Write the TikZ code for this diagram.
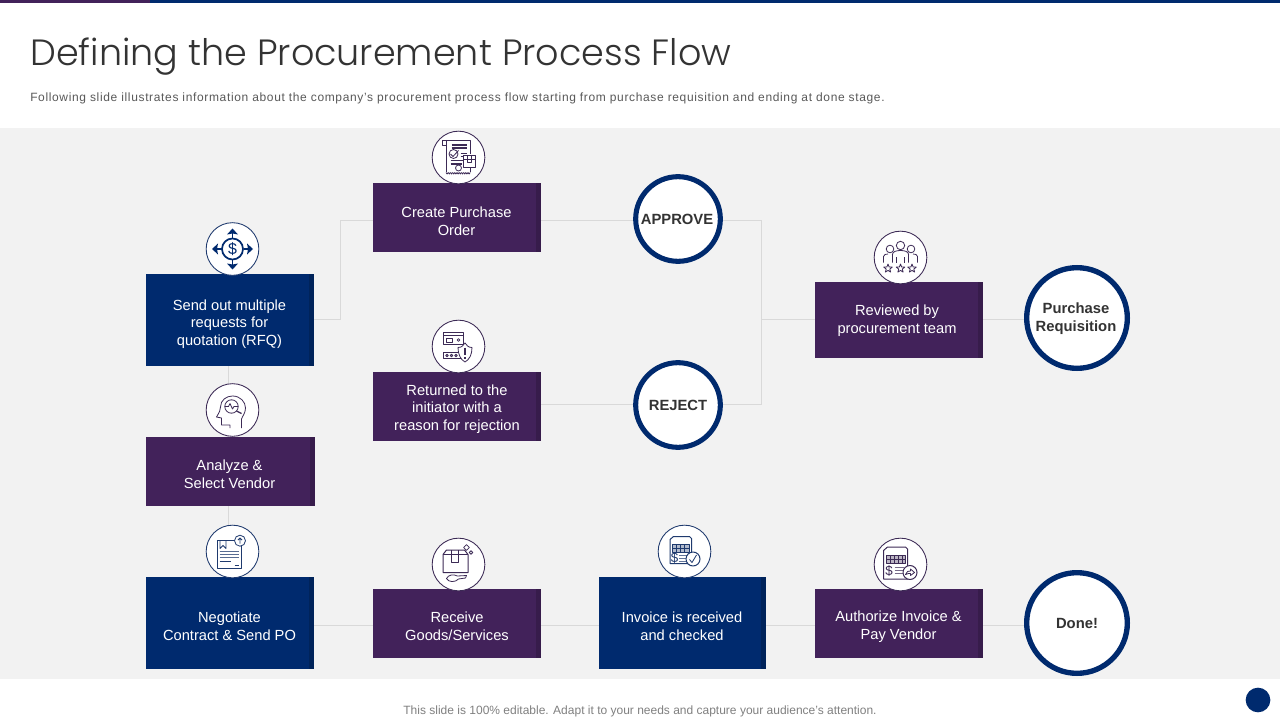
\documentclass[tikz,border=0pt]{standalone}
\usepackage{fontspec}
\setmainfont{Liberation Sans}
\newfontfamily\titlefont{Poppins Light}
\newfontfamily\spacedfont[LetterSpace=5.4]{Liberation Sans}
\usetikzlibrary{backgrounds}
\definecolor{navy}{HTML}{002A6E}
\definecolor{navyd}{HTML}{00235A}
\definecolor{plum}{HTML}{42225A}
\definecolor{plumd}{HTML}{371C4B}
\definecolor{band}{HTML}{F2F2F2}
\definecolor{wire}{HTML}{D9D9D9}
\definecolor{ink}{HTML}{333333}
\definecolor{iconn}{HTML}{1F3A6E}
\definecolor{iconp}{HTML}{3C2A55}
\tikzset{
  x=.75pt,y=-.75pt,
  boxbase/.style={rectangle,inner sep=0,outer sep=0},
  txt/.style={text=white,align=center,inner sep=0,font=\fontsize{11}{13.3}\selectfont},
  ringa/.style={circle,draw=navy,fill=white,line width=3.8pt,inner sep=0,minimum size=63.5pt},
  ringb/.style={circle,draw=navy,fill=white,line width=4pt,inner sep=0,minimum size=75.5pt},
  rtxt/.style={text=ink,align=center,inner sep=0,font=\fontsize{11.1}{13.3}\selectfont\bfseries},
  iconc/.style={circle,draw=#1,fill=white,line width=.65pt,inner sep=0,minimum size=39.5pt},
  wirel/.style={draw=wire,line width=.75pt},
  ic/.style={line width=.6pt,draw=iconp,line join=round},
  icb/.style={line width=.6pt,draw=iconn,line join=round},
}
\newcommand{\flowbox}[7]{% name, x1,y1,x2,y2, fill, strip
  \path[fill=#6] (#2,#3) rectangle (#4,#5);
  \path[fill=#7] (#4-5,#3) rectangle (#4,#5);
  \node[boxbase,minimum width={(#4-#2)*.75pt},minimum height={(#5-#3)*.75pt}] (#1) at ({(#2+#4)/2},{(#3+#5)/2}) {};
}
\begin{document}
\begin{tikzpicture}
\useasboundingbox (0,0) rectangle (1280,720);
\fill[white] (0,0) rectangle (1280,720);
\fill[band] (0,128) rectangle (1280,679);
\fill[navy] (150,0) rectangle (1280,3);
\fill[plum] (0,0) rectangle (150,3);

\node[anchor=base west,inner sep=0,text=ink,font=\titlefont\fontsize{27.4}{32}\selectfont] (title) at (30,66) {Defining the Procurement Process Flow};
\node[anchor=base west,inner sep=0,text=black!65,font=\spacedfont\fontsize{9}{11}\selectfont] (sub) at (30,102) {Following slide illustrates information about the company’s procurement process flow starting from purchase requisition and ending at done stage.};
\node[inner sep=0,text=black!50,font=\fontsize{9}{11}\selectfont] (foot) at (640,711) {This slide is 100\% editable. Adapt it to your needs and capture your audience's attention.};
\node[circle,fill=navy,inner sep=0,minimum size=18.5pt] (dot) at (1258,700) {};

\flowbox{rfq}{146}{274}{314}{366}{navy}{navyd}
\flowbox{po}{373}{183}{541}{252}{plum}{plumd}
\flowbox{ret}{373}{372}{541}{441}{plum}{plumd}
\flowbox{ana}{146}{437}{315}{506}{plum}{plumd}
\flowbox{neg}{146}{577}{314}{669}{navy}{navyd}
\flowbox{rec}{373}{589}{541}{658}{plum}{plumd}
\flowbox{inv}{599}{577}{766}{669}{navy}{navyd}
\flowbox{aut}{815}{589}{983}{658}{plum}{plumd}
\flowbox{rev}{815}{282}{983}{358}{plum}{plumd}

\node[ringa] (app) at (678,219) {};
\node[ringa] (rej) at (678,405) {};
\node[ringb] (pur) at (1077,318) {};
\node[ringb] (don) at (1077,623) {};

% level coordinates for the connectors
\coordinate (yrow1) at (0,220.5);
\coordinate (yrow2) at (0,319);
\coordinate (yrow3) at (0,404.5);
\coordinate (yrow4) at (0,625);
\coordinate (xtrunk) at (761,0);
\coordinate (xfork) at (340,0);
\coordinate (xcol) at (228.5,0);

\draw[wirel] (rfq.east |- yrow2) -- (xfork |- yrow2) -- (xfork |- yrow1) -- (po.west |- yrow1);
\draw[wirel] (po.east |- yrow1) -- (app.west |- yrow1);
\draw[wirel] (app.east |- yrow1) -- (xtrunk |- yrow1) -- (xtrunk |- yrow3) -- (rej.east |- yrow3);
\draw[wirel] (rev.west |- yrow2) -- (xtrunk |- yrow2);
\draw[wirel] (rev.east |- yrow2) -- (pur.west |- yrow2);
\draw[wirel] (rej.west |- yrow3) -- (ret.east |- yrow3);
\draw[wirel] (xcol |- rfq.south) -- (xcol |- ana.north);
\draw[wirel] (xcol |- ana.south) -- (xcol |- neg.north);
\draw[wirel] (neg.east |- yrow4) -- (rec.west |- yrow4);
\draw[wirel] (rec.east |- yrow4) -- (inv.west |- yrow4);
\draw[wirel] (inv.east |- yrow4) -- (aut.west |- yrow4);
\draw[wirel] (aut.east |- yrow4) -- (don.west |- yrow4);

\node[txt] (t1) at (229.5,324) {Send out multiple\\requests for\\quotation (RFQ)};
\node[txt] (t2) at (456.5,221) {Create Purchase\\Order};
\node[txt] (t3) at (457,409) {Returned to the\\initiator with a\\reason for rejection};
\node[txt] (t4) at (229.5,474) {Analyze \&\\Select Vendor};
\node[txt] (t5) at (229.5,626) {Negotiate\\Contract \& Send PO};
\node[txt] (t6) at (457,626) {Receive\\Goods/Services};
\node[txt] (t7) at (682,626) {Invoice is received\\and checked};
\node[txt] (t8) at (898.5,627) {Authorize Invoice \&\\Pay Vendor};
\node[txt] (t9) at (897,321) {Reviewed by\\procurement team};
\node[rtxt] (r1) at (677,219) {APPROVE};
\node[rtxt] (r2) at (678,405) {REJECT};
\node[rtxt] (r3) at (1076,319) {Purchase\\Requisition};
\node[rtxt] (r4) at (1077,623) {Done!};

% icon discs
\node[iconc=iconn] (i1) at (232.5,249) {};
\node[iconc=iconp] (i2) at (458.5,157.5) {};
\node[iconc=iconp] (i3) at (458.5,346.5) {};
\node[iconc=iconp] (i4) at (232.5,410) {};
\node[iconc=iconn] (i5) at (232.5,551.5) {};
\node[iconc=iconp] (i6) at (458.5,564.5) {};
\node[iconc=iconn] (i7) at (684.5,551.5) {};
\node[iconc=iconp] (i8) at (900.5,564.5) {};
\node[iconc=iconp] (i9) at (900.5,257.5) {};

% i1: dollar with four arrows
\begin{scope}[shift={(i1.center)}]
\draw[navy,line width=1.3pt] (0,0) circle (10.5);
\node[inner sep=0,text=navy,font=\fontsize{12}{12}\selectfont] (i1d) at (0,0) {\$};
\foreach \a in {0,90,180,270}{
  \draw[navy,line width=1.4pt,rotate=\a] (11,0) -- (17,0);
  \fill[navy,rotate=\a] (20.5,0) -- (14.5,-5.5) -- (15.5,0) -- (14.5,5.5) -- cycle;
}
\end{scope}

% i2: receipt and parcel
\begin{scope}[shift={(i2.center)}]
\draw[ic] (-12.5,-12) -- (-16.5,-12) -- (-16.5,-17.5) -- (11.5,-17.5) -- (11.5,-3);
\draw[ic] (-12.5,-17.5) -- (-12.5,15);
\foreach \i in {0,1,2,3,4,5,6,7,8,9,10}{\draw[ic] (-12.5+2.2*\i,15) -- ++(1.1,1.5) -- ++(1.1,-1.5);}
\draw[ic] (11.5,10) -- (11.5,15);
\draw[iconp,line width=1.3pt] (-7,-12.5) -- (8,-12.5) (-7,-9.5) -- (8,-9.5);
\draw[ic] (-5,-3.5) circle (4.5);
\draw[ic] (-8,-3.5) -- (-5.5,-1) -- (0,-7);
\draw[ic] (2,-4) -- (8,-4) (2,-1) -- (6,-1);
\draw[iconp,line width=1pt] (-8,3) -- (5,3) (-8,6.5) -- (3,6.5);
\draw[ic] (0,10.5) circle (3);
\draw[ic,fill=white] (5,-2.5) rectangle (17,10);
\draw[ic] (5,1.5) -- (17,1.5) (9,-2.5) -- (9,5) -- (13,5) -- (13,-2.5);
\end{scope}

% i3: card and shield
\begin{scope}[shift={(i3.center)}]
\draw[ic] (-15,-14.5) rectangle (5,-2.5);
\draw[iconp,line width=1.1pt] (-15,-11) -- (5,-11);
\draw[ic] (-12,-8) rectangle (-6,-4.5);
\draw[ic] (0,-6.5) circle (1.4);
\draw[ic] (-15,6) rectangle (3,12);
\foreach \q in {-11.5,-7,-2.5}{\draw[ic] (\q,9) circle (1.3);}
\draw[ic,fill=white] (-.5,1) .. controls (3,1) and (5,-1) .. (6.5,-3.5) .. controls (8,-1) and (10,1) .. (13.5,1) .. controls (13.5,8) and (11,13) .. (6.5,15.5) .. controls (2,13) and (-.5,8) .. (-.5,1) -- cycle;
\draw[iconp,line width=1.3pt] (6.5,1) -- (6.5,8.5) (6.5,10.5) -- (6.5,12);
\end{scope}

% i4: head with magnifier
\begin{scope}[shift={(i4.center)}]
\draw[ic] (-2.5,18) -- (-2.5,15) -- (-11,15) -- (-11,8) -- (-16,7) .. controls (-13,2) and (-12,0) .. (-12,-3) .. controls (-12,-10) and (-6,-14) .. (0,-14) .. controls (8,-14) and (13,-8) .. (13,-2) .. controls (13,3) and (10,6) .. (9,9) -- (9,18);
\draw[ic] (-1,-3.5) circle (6.7);
\draw[ic] (-7.7,-3.5) -- (-4,-3.5) -- (-2.5,-6.5) -- (0,-1) -- (1.5,-3.5) -- (5.7,-3.5);
\draw[iconp,line width=1pt] (4,1) -- (9,3.5);
\end{scope}

% i5: document with upload badge
\begin{scope}[shift={(i5.center)}]
\draw[icb] (-15.5,-11.5) rectangle (8.5,16.5);
\draw[icb] (-12.5,-11.5) -- (-12.5,-3) -- (-9.5,-6) -- (-6.5,-3) -- (-6.5,-11.5);
\draw[iconn!75,line width=1pt] (-13,0) -- (6,0) (-13,3) -- (6,3) (-13,6) -- (6,6);
\draw[icb] (-13,10) -- (-2,10) (2,13.5) -- (6,13.5);
\draw[icb,fill=white] (7.5,-10.8) circle (5.5);
\draw[icb] (7.5,-8) -- (7.5,-13.5) (5.5,-11.5) -- (7.5,-13.5) -- (9.5,-11.5);
\end{scope}

% i6: parcel on hand
\begin{scope}[shift={(i6.center)}]
\draw[ic,line width=.75pt] (-15.5,-10) -- (-12,-14.5) -- (6,-14.5) -- (9.5,-10) -- (9.5,8) -- (-15.5,8) -- cycle;
\draw[ic] (-15.5,-10) -- (9.5,-10);
\draw[ic] (-7,-14.5) -- (-7,-2.5) -- (0,-2.5) -- (0,-14.5);
\draw[ic,rotate around={45:(8,-17)}] (6,-19) rectangle (10,-15);
\draw[ic] (12.5,-12) circle (1.8);
\draw[ic] (-12,14) .. controls (-10,10) and (-5,9.5) .. (-1,11.5) -- (8,11) -- (7,13.5) -- (0,14.5) .. controls (-3,18) and (-10,18) .. (-12,14) -- cycle;
\end{scope}

% i7: invoice, check
\begin{scope}[shift={(i7.center)}]
\draw[icb,line width=.75pt] (-11,-15) -- (5,-15) -- (7,-13) -- (7,12) -- (-14.5,12) -- (-14.5,-12) -- cycle;
\draw[icb,fill=iconn!35] (-12,-7.5) rectangle (5,.5);
\draw[icb] (-12,-3.5) -- (5,-3.5) (-8,-7.5) -- (-8,.5) (-4,-7.5) -- (-4,.5) (0,-7.5) -- (0,.5);
\node[inner sep=0,text=iconn,font=\fontsize{10}{10}\selectfont] (i7d) at (-10,6.5) {\$};
\draw[iconn!70,line width=1pt] (-6,4) -- (2,4) (-6,7) -- (2,7) (-6,10) -- (2,10);
\draw[icb,line width=.75pt,fill=white] (8.5,7.5) circle (7);
\draw[icb] (5,8) -- (7.5,11) -- (12,3.5);
\end{scope}

% i8: invoice, arrow badge
\begin{scope}[shift={(i8.center)}]
\draw[ic,line width=.75pt] (-13,-17.5) -- (5,-17.5) -- (7,-15.5) -- (7,14.5) -- (-17,14.5) -- (-17,-14) -- cycle;
\draw[ic,fill=iconp!35] (-14,-9.5) rectangle (4.5,-1);
\draw[ic] (-14,-5) -- (4.5,-5) (-10,-9.5) -- (-10,-1) (-6,-9.5) -- (-6,-1) (-2,-9.5) -- (-2,-1) (1.5,-9.5) -- (1.5,-1);
\node[inner sep=0,text=iconp,font=\fontsize{10}{10}\selectfont] (i8d) at (-11.5,6.5) {\$};
\draw[iconp!70,line width=1pt] (-6,3) -- (3,3) (-6,6) -- (3,6) (-6,9) -- (3,9);
\draw[ic,line width=.75pt,fill=white] (9.5,8) circle (7);
\draw[ic] (5,10) .. controls (6,7) and (8,6) .. (10,6.5) -- (10,4.5) -- (14,8) -- (10,11) -- (10,9) -- (8,9) -- cycle;
\end{scope}

% i9: team and stars
\begin{scope}[shift={(i9.center)}]
\foreach \u in {-10.5,10.5}{
  \draw[ic] (\u,-8.5) circle (3.8);
  \draw[ic] (\u-6.5,5) -- (\u-6.5,-1) .. controls (\u-6.5,-3) and (\u-4,-3.5) .. (\u-2,-3.5);
  \draw[ic] (\u+6.5,5) -- (\u+6.5,-1) .. controls (\u+6.5,-3) and (\u+4,-3.5) .. (\u+2,-3.5);
}
\draw[ic,fill=white] (-8,5) -- (-8,-3) .. controls (-8,-6) and (-4,-7) .. (0,-7) .. controls (4,-7) and (8,-6) .. (8,-3) -- (8,5);
\draw[ic,fill=white] (0,-12) circle (4.2);
\draw[ic] (-4,5) -- (-4,-1) (4,5) -- (4,-1);
\foreach \u in {-12.5,0,11.5}{
  \draw[ic,shift={(\u,11)}] (90:-4.5) -- (126:-1.9) -- (162:-4.5) -- (198:-1.9) -- (234:-4.5) -- (270:-1.9) -- (306:-4.5) -- (342:-1.9) -- (18:-4.5) -- (54:-1.9) -- cycle;
}
\end{scope}
\end{tikzpicture}
\end{document}
